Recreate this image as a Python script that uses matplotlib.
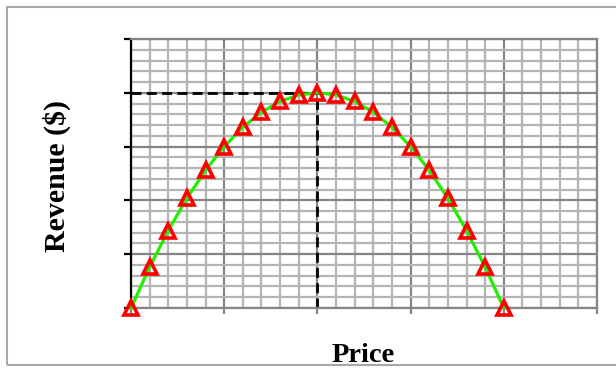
import matplotlib
matplotlib.use("Agg")
import matplotlib.pyplot as plt
from matplotlib.patches import Rectangle
from matplotlib.ticker import MultipleLocator, NullFormatter

price = [0, 1, 2, 3, 4, 5, 6, 7, 8, 9, 10, 11, 12, 13, 14, 15, 16, 17, 18, 19, 20]
revenue = [0, 19, 36, 51, 64, 75, 84, 91, 96, 99, 100, 99, 96, 91, 84, 75, 64, 51, 36, 19, 0]
peak_price = 10
peak_revenue = 100
x_label = "Price"
y_label = "Revenue ($)"

fig = plt.figure(figsize=(6.16, 3.70), dpi=100)
fig.patch.set_facecolor("white")
ax = fig.add_axes([131/616, 1-308/370, (597-131)/616, (308-39)/370])

ax.set_xlim(0, 25)
ax.set_ylim(0, 125)
ax.xaxis.set_major_locator(MultipleLocator(5))
ax.xaxis.set_minor_locator(MultipleLocator(1))
ax.yaxis.set_major_locator(MultipleLocator(25))
ax.yaxis.set_minor_locator(MultipleLocator(5))
ax.xaxis.set_major_formatter(NullFormatter())
ax.yaxis.set_major_formatter(NullFormatter())

ax.grid(which="minor", color="#b4b4b4", linewidth=1.6, zorder=0)
ax.grid(which="major", color="#858585", linewidth=1.6, zorder=0)
ax.set_axisbelow(True)

ax.tick_params(axis="x", which="major", direction="out", length=4, width=1.6, color="#858585")
ax.tick_params(axis="y", which="major", direction="out", length=5, width=1.6, color="black")
ax.tick_params(which="minor", length=0)

ax.spines["left"].set_color("black")
ax.spines["left"].set_linewidth(1.6)
for s in ["bottom", "top", "right"]:
    ax.spines[s].set_color("#858585")
    ax.spines[s].set_linewidth(1.6)

ax.plot([0, peak_price], [peak_revenue, peak_revenue], color="black", linestyle=(0, (3.6, 1.9)), linewidth=2.0, zorder=2, clip_on=False)
ax.plot([peak_price, peak_price], [0, peak_revenue], color="black", linestyle=(0, (3.6, 1.9)), linewidth=2.0, zorder=2, clip_on=False)

ax.plot(price, revenue, color="#22ee00", linewidth=2.3, zorder=3, clip_on=False)
ax.plot(price, revenue, linestyle="none", marker="^", markersize=9.5, markerfacecolor="none",
        markeredgecolor="#ff0000", markeredgewidth=2.6, zorder=4, clip_on=False)

fig.text(363/616, 1-356/370, x_label, ha="center", va="center", fontsize=20.5,
         fontweight="bold", family="Liberation Serif")
fig.text(57/616, 1-176/370, y_label, ha="center", va="center", rotation=90, fontsize=21.5,
         fontweight="bold", family="Liberation Serif")

fig.patches.append(Rectangle((7/616, 1-365/370), 1.0, (365-7)/370, transform=fig.transFigure,
                             fill=False, edgecolor="#a8a8a8", linewidth=1.5, zorder=-1))

fig.savefig("out.png", dpi=100, facecolor="white")
